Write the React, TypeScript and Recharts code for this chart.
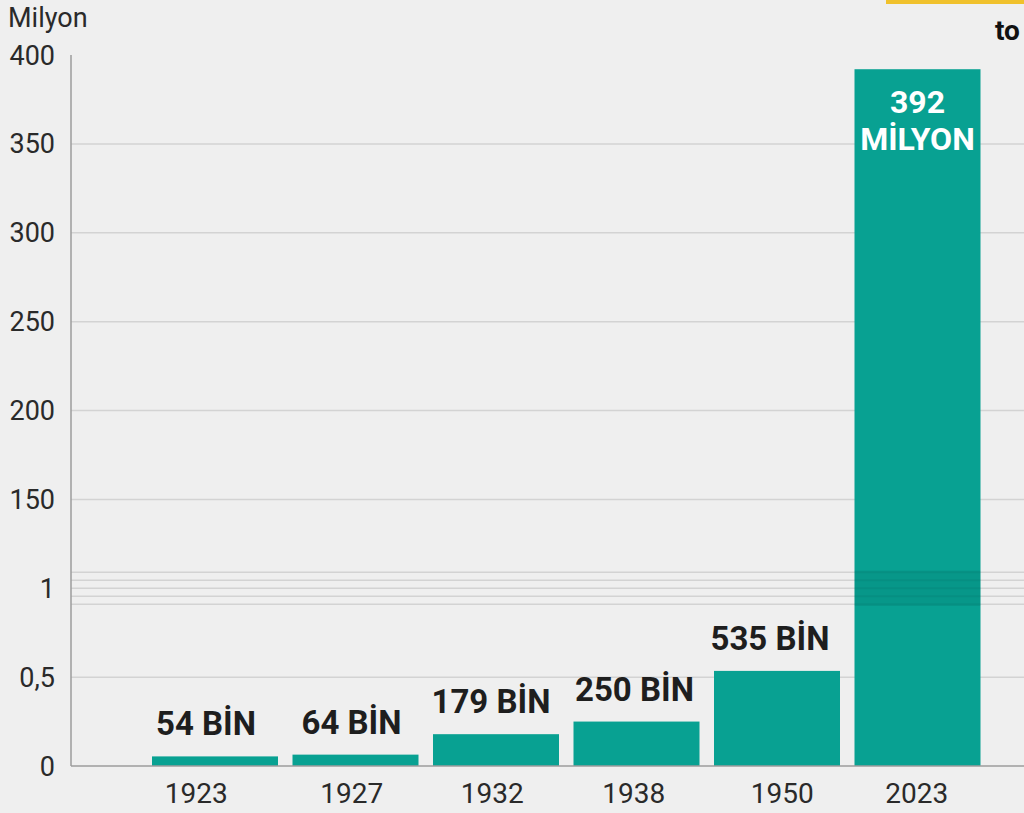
import React from "react";
import { BarChart, Bar, XAxis, YAxis, CartesianGrid, LabelList } from "recharts";

const years = ["1923", "1927", "1932", "1938", "1950", "2023"];
const populationMillions = [0.054, 0.064, 0.179, 0.25, 0.535, 392];
const barLabels = ["54 BİN", "64 BİN", "179 BİN", "250 BİN", "535 BİN", "392 MİLYON"];
const yTickValues = [0, 1, 2, 3, 4, 5, 6, 7, 8];
const yTickLabels = ["0", "0,5", "1", "150", "200", "250", "300", "350", "400"];
const unitLabel = "Milyon";
const cutTitle = "to";

// small hand nudges of the original layout (style, px)
const TICK_NUDGE = [-19, -4, -4, -3, 5, -1];
const LABEL_NUDGE = [-9, -4, -5, -2, -7, 0];

// broken axis: 0..1 million on the lower part, 100..400 million on the upper part
const toDisplay = (v: number) => (v <= 1 ? v * 2 : 2 + (v - 100) / 50);
const BREAK_LINES = [1.82, 1.91, 2.0, 2.09, 2.18];
const BREAK_LOW = 1.8;
const BREAK_HIGH = 2.2;

const data = years.map((y, i) => ({
  year: y,
  value: toDisplay(populationMillions[i]),
  label: barLabels[i],
}));

const TEAL = "#08a192";
const FONT = "Roboto, 'Noto Sans', sans-serif";

const BarShape = (props: any) => {
  const { x, y, width, height, value } = props;
  const v = Array.isArray(value) ? value[1] - value[0] : value;
  const bottom = y + height;
  const ppu = v > 0 ? height / v : 0;
  const overlay = v > BREAK_HIGH;
  return (
    <g>
      <rect x={x} y={y} width={width} height={height} fill={TEAL} />
      {overlay && (
        <g>
          <rect
            x={x}
            y={bottom - BREAK_HIGH * ppu}
            width={width}
            height={(BREAK_HIGH - BREAK_LOW) * ppu}
            fill="#000"
            fillOpacity={0.06}
          />
          {BREAK_LINES.map((b) => (
            <line
              key={b}
              x1={x}
              x2={x + width}
              y1={bottom - b * ppu}
              y2={bottom - b * ppu}
              stroke="#000"
              strokeOpacity={0.05}
              strokeWidth={2}
            />
          ))}
        </g>
      )}
    </g>
  );
};

const LabelContent = (props: any) => {
  const { x, y, width, index } = props;
  const text = barLabels[index];
  const cx = x + width / 2 + (LABEL_NUDGE[index] ?? 0);
  if (index === years.length - 1) {
    const parts = text.split(" ");
    return (
      <g>
        <text x={cx} y={y + 44} textAnchor="middle" fill="#fff" fontFamily={FONT} fontWeight={700} fontSize={32}>
          {parts[0]}
        </text>
        <text x={cx} y={y + 81} textAnchor="middle" fill="#fff" fontFamily={FONT} fontWeight={700} fontSize={32}>
          {parts[1]}
        </text>
      </g>
    );
  }
  return (
    <text x={cx} y={y - 21} textAnchor="middle" fill="#1e1e1e" fontFamily={FONT} fontWeight={700} fontSize={33}>
      {text}
    </text>
  );
};

const XTick = (props: any) => {
  const { x, y, payload } = props;
  const i = years.indexOf(String(payload.value));
  return (
    <text
      x={x + (TICK_NUDGE[i] ?? 0)}
      y={y + 37}
      textAnchor="middle"
      fill="#2a2a2a"
      fontFamily={FONT}
      fontSize={28}
    >
      {payload.value}
    </text>
  );
};

export default function App() {
  return (
    <div
      style={{
        position: "absolute",
        left: 0,
        top: 0,
        width: 1024,
        height: 813,
        background: "#efefef",
        overflow: "hidden",
      }}
    >
      <BarChart
        width={1024}
        height={813}
        data={data}
        margin={{ top: 55, right: 0, bottom: 0, left: 0 }}
      >
        <CartesianGrid
          vertical={false}
          horizontalValues={[1, ...BREAK_LINES, 3, 4, 5, 6, 7]}
          stroke="#d3d3d3"
          strokeWidth={1.5}
        />
        <XAxis
          dataKey="year"
          height={47}
          padding={{ left: 74, right: 36 }}
          tickLine={false}
          tickSize={0}
          tickMargin={0}
          axisLine={{ stroke: "#9c9c9c", strokeWidth: 1.5 }}
          tick={<XTick />}
        />
        <YAxis
          width={71}
          domain={[0, 8]}
          ticks={yTickValues}
          interval={0}
          tickFormatter={(v: number) => yTickLabels[yTickValues.indexOf(v)] ?? ""}
          tickLine={false}
          tickSize={0}
          tickMargin={16}
          axisLine={{ stroke: "#9c9c9c", strokeWidth: 1.5 }}
          tick={{ fill: "#2a2a2a", fontSize: 27, fontFamily: FONT }}
        />
        <Bar dataKey="value" barSize={126} shape={<BarShape />} isAnimationActive={false}>
          <LabelList dataKey="value" content={<LabelContent />} />
        </Bar>
      </BarChart>
      <svg
        width={1024}
        height={813}
        style={{ position: "absolute", left: 0, top: 0, pointerEvents: "none" }}
      >
        <text x={8} y={27} fill="#2a2a2a" fontFamily={FONT} fontSize={27}>
          {unitLabel}
        </text>
        <rect x={886} y={0} width={138} height={4} fill="#f0c12c" />
        <text x={995} y={40} fill="#111" fontFamily={FONT} fontWeight={700} fontSize={28}>
          {cutTitle}
        </text>
      </svg>
    </div>
  );
}
